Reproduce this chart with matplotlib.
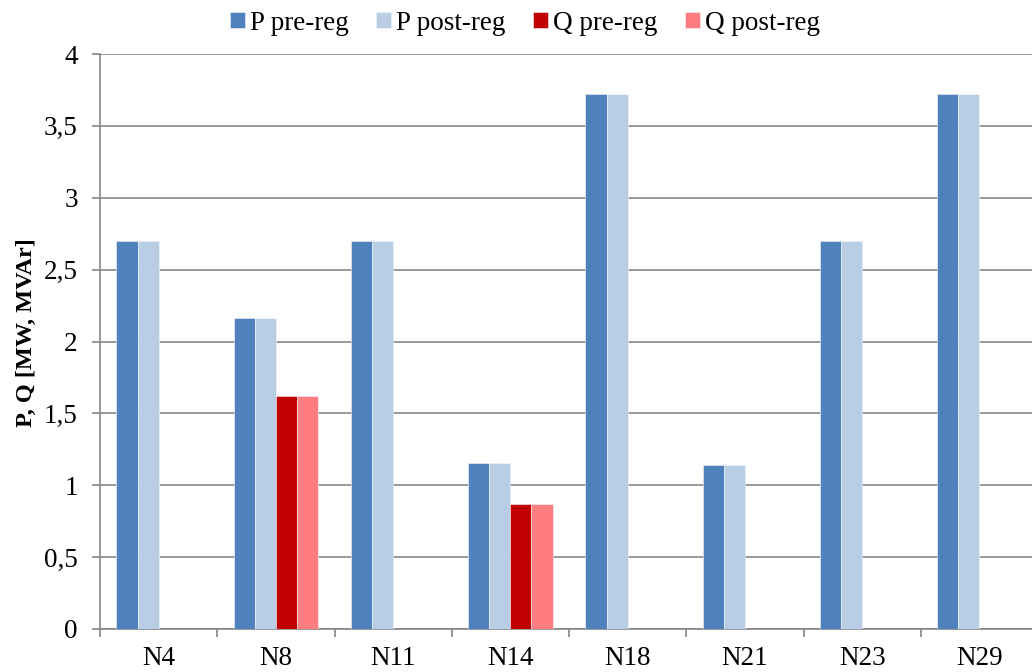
import numpy as np
import matplotlib
matplotlib.use("Agg")
from matplotlib import pyplot as plt

# Data
nodes = ["N4", "N8", "N11", "N14", "N18", "N21", "N23", "N29"]
p_pre = [2.70, 2.165, 2.70, 1.155, 3.72, 1.14, 2.70, 3.72]
p_post = [2.70, 2.165, 2.70, 1.155, 3.72, 1.14, 2.70, 3.72]
q_pre = [0, 1.62, 0, 0.87, 0, 0, 0, 0]
q_post = [0, 1.62, 0, 0.87, 0, 0, 0, 0]
series_names = ["P pre-reg", "P post-reg", "Q pre-reg", "Q post-reg"]
colors = ["#4F81BD", "#B9CDE5", "#C00000", "#FF7C80"]
y_ticks = [0, 0.5, 1, 1.5, 2, 2.5, 3, 3.5, 4]
y_tick_labels = ["0", "0,5", "1", "1,5", "2", "2,5", "3", "3,5", "4"]

plt.rcParams["font.family"] = ["Liberation Serif", "DejaVu Serif"]

fig = plt.figure(figsize=(10.32, 6.72), dpi=100)
ax = fig.add_axes([100 / 1032, 43 / 672, 938 / 1032, 575 / 672])

x = np.arange(len(nodes))
width = 0.18
all_series = [p_pre, p_post, q_pre, q_post]
for i, (vals, name, c) in enumerate(zip(all_series, series_names, colors)):
    ax.bar(x + (i - 1.5) * width, vals, width, color=c, label=name, zorder=3,
           edgecolor="#F4F6FA", linewidth=0.4)

ax.set_xlim(-0.5, len(nodes) - 0.5)
ax.set_ylim(0, 4)
ax.set_yticks(y_ticks)
ax.set_yticklabels(y_tick_labels)
ax.set_xticks(x)
ax.set_xticklabels(nodes)
# category boundary ticks like Excel
ax.set_xticks(np.arange(len(nodes) + 1) - 0.5, minor=True)
ax.tick_params(axis="x", which="major", length=0, labelsize=19.5, pad=12)
ax.tick_params(axis="x", which="minor", length=6, color="#868686", width=1.2)
ax.tick_params(axis="y", length=6, color="#868686", width=1.2, labelsize=19.5, pad=10)

ax.grid(axis="y", color="#868686", linewidth=1.2, zorder=0)
for s in ["top", "right"]:
    ax.spines[s].set_visible(False)
for s in ["left", "bottom"]:
    ax.spines[s].set_color("#868686")
    ax.spines[s].set_linewidth(1.2)

ax.set_ylabel("P, Q [MW, MVAr]", fontsize=17.5, fontweight="bold")
ax.yaxis.set_label_coords(-63 / 938, 0.515)

fig.legend(loc="center", bbox_to_anchor=(525 / 1032, 1 - 23 / 672), ncol=4,
           frameon=False, fontsize=19.5, handlelength=0.55, handleheight=0.55,
           handletextpad=0.2, columnspacing=1.0)

fig.savefig("out.png", dpi=100)
